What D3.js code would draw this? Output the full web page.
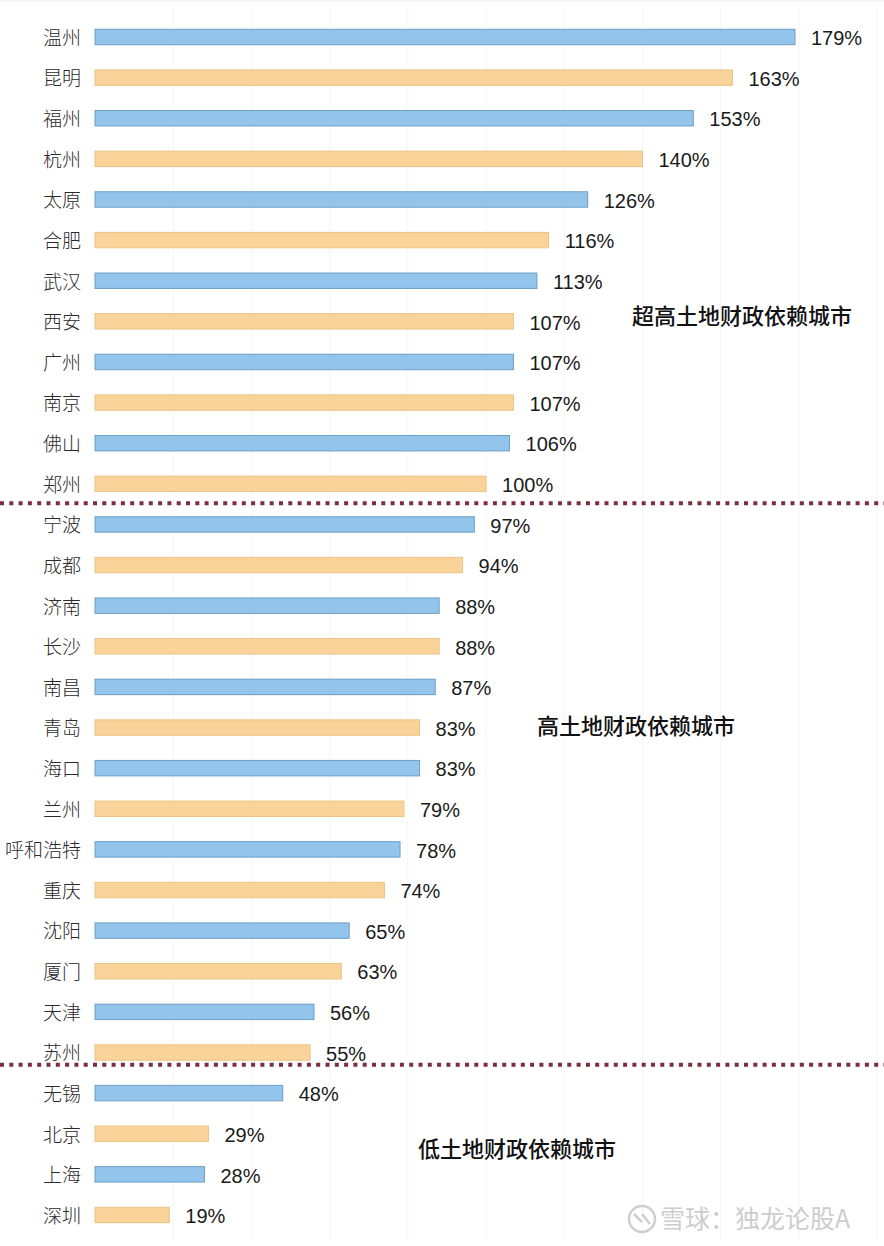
<!DOCTYPE html>
<html><head><meta charset="utf-8">
<script src="https://cdn.jsdelivr.net/npm/d3@7"></script>
<style>html,body{margin:0;padding:0;background:#fff;}svg{display:block;}</style>
</head><body>
<svg id="chart" width="884" height="1246"></svg>
<script>
const cities = ["温州","昆明","福州","杭州","太原","合肥","武汉","西安","广州","南京","佛山","郑州",
  "宁波","成都","济南","长沙","南昌","青岛","海口","兰州","呼和浩特","重庆","沈阳","厦门","天津","苏州",
  "无锡","北京","上海","深圳"];
const values = [179,163,153,140,126,116,113,107,107,107,106,100,
  97,94,88,88,87,83,83,79,78,74,65,63,56,55,
  48,29,28,19];
const groupLabels = ["超高土地财政依赖城市","高土地财政依赖城市","低土地财政依赖城市"];
const groupAnchorCity = ["西安","青岛","北京"];
const dividerAfter = ["郑州","苏州"];
const gridTicks = [20,40,60,80,100,120,140,160,180,200];
const watermark = "雪球：独龙论股A";

const svg = d3.select("#chart");
const x = d3.scaleLinear().domain([0,179]).range([95,795]);
const step = 40.62;
const y = d3.scaleBand().domain(cities).range([37 - step/2, 37 - step/2 + step*cities.length])
  .paddingInner(0.62).paddingOuter(0.31);

// top border
svg.append("line").attr("x1",0).attr("x2",884).attr("y1",1).attr("y2",1).attr("stroke","#e8e8e8");

// gridlines
svg.append("g").selectAll("line").data(gridTicks).join("line")
  .attr("x1",d=>x(d)).attr("x2",d=>x(d)).attr("y1",8).attr("y2",1240)
  .attr("stroke","#f6f6f6").attr("stroke-width",1);

// bars
svg.append("g").selectAll("rect").data(cities).join("rect")
  .attr("x",x(0)).attr("y",d=>y(d))
  .attr("width",(d,i)=>x(values[i])-x(0)).attr("height",y.bandwidth())
  .attr("fill",(d,i)=>i%2===0?"#92c4ec":"#fad39b")
  .attr("stroke",(d,i)=>i%2===0?"#6e9fc6":"#ecc285").attr("stroke-width",1);

// city labels
svg.append("g").selectAll("text").data(cities).join("text")
  .attr("x",81).attr("y",d=>y(d)+y.bandwidth()/2+1)
  .attr("dy","0.36em").attr("text-anchor","end")
  .attr("font-family","'Noto Sans CJK SC'").attr("font-weight",300)
  .attr("font-size",19).attr("fill","#2a2a2a").text(d=>d);

// value labels
svg.append("g").selectAll("text").data(cities).join("text")
  .attr("x",(d,i)=>x(values[i])+16).attr("y",d=>y(d)+y.bandwidth()/2+1)
  .attr("dy","0.36em")
  .attr("font-family","'Liberation Sans', Arial, sans-serif")
  .attr("font-size",20).attr("fill","#1a1a1a").text((d,i)=>values[i]+"%");

// dividers
const dividerOffsets = [-1,-8];
svg.append("g").selectAll("line").data(dividerAfter).join("line")
  .attr("x1",0).attr("x2",884)
  .attr("y1",(d,i)=>y(d)+y.bandwidth()/2+step/2+dividerOffsets[i])
  .attr("y2",(d,i)=>y(d)+y.bandwidth()/2+step/2+dividerOffsets[i])
  .attr("stroke","#7b2f3c").attr("stroke-width",4).attr("stroke-dasharray","4,5.3");

// group labels
const groupX = [632,537,418];
const groupDy = [-5,-1,15];
svg.append("g").selectAll("text").data(groupLabels).join("text")
  .attr("x",(d,i)=>groupX[i]).attr("y",(d,i)=>y(groupAnchorCity[i])+y.bandwidth()/2+groupDy[i])
  .attr("dy","0.36em")
  .attr("font-family","'Noto Sans CJK SC'").attr("font-weight",500)
  .attr("font-size",22).attr("fill","#111").text(d=>d);

// watermark
const wm = svg.append("g").attr("transform","translate(628,1219)");
wm.append("circle").attr("cx",14).attr("cy",0).attr("r",13).attr("fill","none").attr("stroke","#cfcfcf").attr("stroke-width",2.5);
wm.append("path").attr("d","M6,-5 L14,3 M14,-5 L22,5").attr("stroke","#cfcfcf").attr("stroke-width",2.5).attr("fill","none");
wm.append("text").attr("x",32).attr("y",0).attr("dy","0.36em")
  .attr("font-family","'Noto Sans CJK SC'").attr("font-size",25).attr("fill","#cdcdcd").text(watermark);
</script>
</body></html>
